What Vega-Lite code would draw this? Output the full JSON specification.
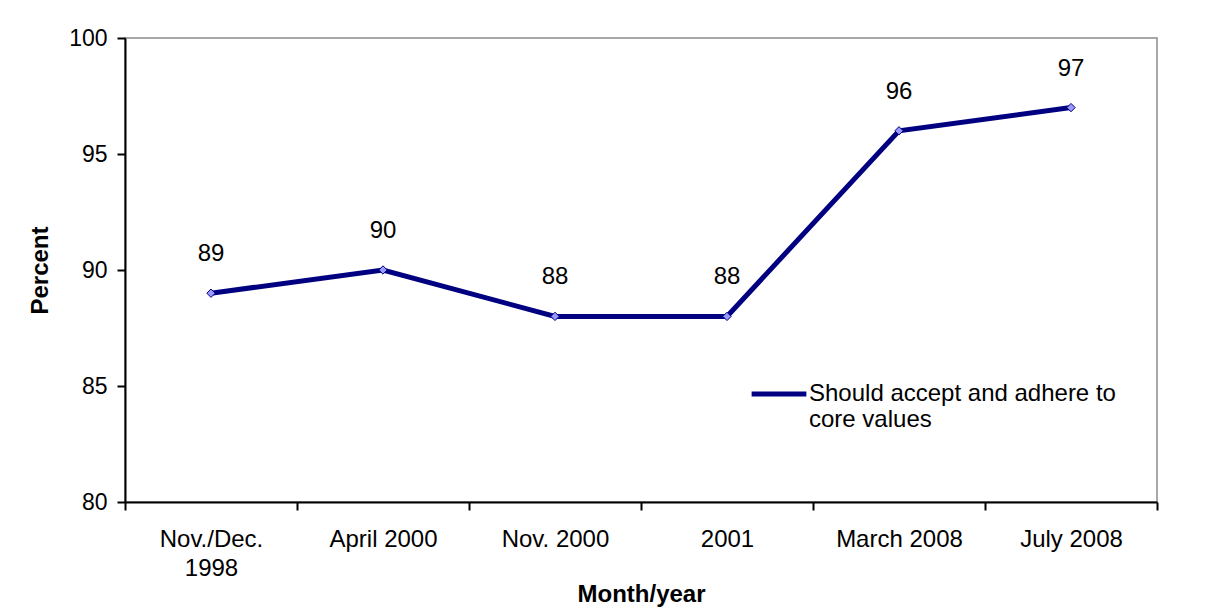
{
  "$schema": "https://vega.github.io/schema/vega-lite/v6.json",
  "width": 1032,
  "height": 464,
  "autosize": {"type": "none"},
  "padding": {"left": 125, "top": 38, "right": 64, "bottom": 111},
  "background": "white",
  "config": {
    "font": "Liberation Sans",
    "view": {"stroke": "#8c8c8c", "strokeWidth": 1.5}
  },
  "data": {
    "values": [
      {"period": "Nov./Dec.|1998", "percent": 89, "series": "Should accept and adhere to core values"},
      {"period": "April 2000", "percent": 90, "series": "Should accept and adhere to core values"},
      {"period": "Nov. 2000", "percent": 88, "series": "Should accept and adhere to core values"},
      {"period": "2001", "percent": 88, "series": "Should accept and adhere to core values"},
      {"period": "March 2008", "percent": 96, "series": "Should accept and adhere to core values"},
      {"period": "July 2008", "percent": 97, "series": "Should accept and adhere to core values"}
    ]
  },
  "encoding": {
    "x": {
      "field": "period",
      "type": "nominal",
      "sort": null,
      "bandPosition": 0.5,
      "scale": {"type": "band", "paddingInner": 0, "paddingOuter": 0},
      "axis": {
        "title": "Month/year",
        "titleFontSize": 24,
        "titleFontWeight": "bold",
        "titleColor": "black",
        "titlePadding": 2,
        "labelAngle": 0,
        "labelFontSize": 24,
        "labelColor": "black",
        "labelPadding": 17,
        "labelLineHeight": 29,
        "labelExpr": "split(datum.label, '|')",
        "tickBand": "extent",
        "tickSize": 8,
        "tickWidth": 2,
        "tickColor": "black",
        "domainColor": "black",
        "domainWidth": 2
      }
    },
    "y": {
      "field": "percent",
      "type": "quantitative",
      "scale": {"domain": [80, 100], "zero": false, "nice": false},
      "axis": {
        "title": "Percent",
        "titleFontSize": 24,
        "titleFontWeight": "bold",
        "titleColor": "black",
        "titlePadding": 16,
        "values": [80, 85, 90, 95, 100],
        "labelFontSize": 23,
        "labelColor": "black",
        "labelPadding": 10,
        "tickSize": 8,
        "tickWidth": 2,
        "tickColor": "black",
        "domainColor": "black",
        "domainWidth": 2,
        "grid": false
      }
    }
  },
  "layer": [
    {
      "mark": {"type": "line", "strokeWidth": 5},
      "encoding": {
        "color": {
          "field": "series",
          "type": "nominal",
          "scale": {"range": ["#000080"]},
          "legend": {
            "title": null,
            "orient": "none",
            "legendX": 624,
            "legendY": 326,
            "symbolType": "stroke",
            "symbolSize": 3000,
            "symbolStrokeWidth": 5,
            "symbolStrokeColor": "#000080",
            "labelFontSize": 24,
            "labelColor": "black",
            "labelLimit": 500,
            "labelOffset": 0,
            "labelExpr": "['Should accept and adhere to', 'core values']"
          }
        }
      }
    },
    {
      "mark": {"type": "point", "shape": "diamond", "filled": true, "size": 70, "fill": "#9999ff", "stroke": "#000080", "strokeWidth": 1, "opacity": 1}
    },
    {
      "mark": {"type": "text", "dy": -39, "fontSize": 24, "color": "black"},
      "encoding": {"text": {"field": "percent", "type": "quantitative"}}
    }
  ]
}
